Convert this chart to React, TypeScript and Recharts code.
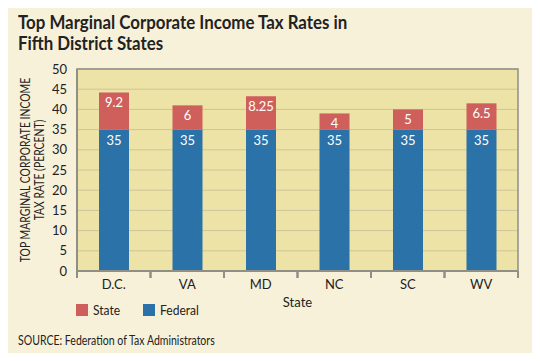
import React from 'react';
import {
  BarChart, Bar, XAxis, YAxis, CartesianGrid, LabelList, Legend, ReferenceArea
} from 'recharts';

const STATES = ['D.C.', 'VA', 'MD', 'NC', 'SC', 'WV'];
const FEDERAL_RATE = [35, 35, 35, 35, 35, 35];
const STATE_RATE = [9.2, 6, 8.25, 4, 5, 6.5];
const Y_TICKS = [0, 5, 10, 15, 20, 25, 30, 35, 40, 45, 50];

const SERIES = [
  { key: 'state', name: 'State', color: '#cf5f5b' },
  { key: 'federal', name: 'Federal', color: '#2b72a8' },
];

const data = STATES.map((s, i) => ({ name: s, federal: FEDERAL_RATE[i], state: STATE_RATE[i] }));

const FONT = 'Lato, "Open Sans", sans-serif';
const AXIS_GRAY = '#8f8f86';

const XTick = (props: any) => {
  const { x, y, payload } = props;
  const half = payload && payload.offset ? payload.offset : 36.75;
  return (
    <g>
      <line x1={x - half} y1={y - 8} x2={x - half} y2={y - 1} stroke={AXIS_GRAY} strokeWidth={2} />
      <line x1={x + half} y1={y - 8} x2={x + half} y2={y - 1} stroke={AXIS_GRAY} strokeWidth={2} />
      <text x={x} y={y + 10} textAnchor="middle" fontSize={13} fill="#222" fontFamily={FONT}>
        {payload.value}
      </text>
    </g>
  );
};

const YLabel = (props: any) => {
  const vb = props.viewBox || {};
  const cy = vb.y + vb.height / 2;
  return (
    <text transform={`translate(30, ${cy}) rotate(-90) scale(0.8, 1)`} textAnchor="middle" fontSize={13} fill="#222" fontFamily={FONT}>
      <tspan x={0} dy={0}>TOP MARGINAL CORPORATE INCOME</tspan>
      <tspan x={0} dy={14}>TAX RATE (PERCENT)</tspan>
    </text>
  );
};

const LegendContent = () => (
  <div style={{ display: 'flex', fontFamily: FONT, fontSize: 14, color: '#222' }}>
    {SERIES.map((s) => (
      <div key={s.key} style={{ display: 'flex', alignItems: 'center', marginRight: 18 }}>
        <span style={{ width: 12, height: 12, background: s.color, display: 'inline-block', marginRight: 5 }} />
        <span style={{ display: 'inline-block', transform: 'scaleX(0.86)', transformOrigin: 'left' }}>{s.name}</span>
      </div>
    ))}
  </div>
);

export default function App() {
  return (
    <div style={{ position: 'relative', width: 540, height: 361, margin: -8, background: '#f7f1da', border: '1px solid #333', boxSizing: 'border-box', overflow: 'hidden' }}>
      <div style={{ position: 'absolute', left: 17, top: 11, fontFamily: FONT, fontWeight: 700, fontSize: 18.5, lineHeight: '21px', color: '#222', transform: 'scaleX(0.91)', transformOrigin: 'left top', whiteSpace: 'nowrap' }}>
        Top Marginal Corporate Income Tax Rates in<br />Fifth District States
      </div>
      <div style={{ position: 'absolute', left: 17, top: 331, fontFamily: FONT, fontSize: 13, color: '#222', transform: 'scaleX(0.81)', transformOrigin: 'left top', whiteSpace: 'nowrap' }}>
        SOURCE: Federation of Tax Administrators
      </div>
      <div style={{ position: 'absolute', left: -1, top: -1 }}>
        <BarChart width={540} height={361} data={data} margin={{ top: 69, right: 22, bottom: 60, left: 0 }}>
          <CartesianGrid vertical={false} stroke="#cdc59c" fill="#ede3a6" fillOpacity={1} />
          <ReferenceArea y1={0} y2={50} fill="none" stroke={AXIS_GRAY} strokeWidth={1.5} />
          <XAxis
            dataKey="name"
            tick={<XTick />}
            tickLine={false}
            axisLine={{ stroke: AXIS_GRAY, strokeWidth: 2 }}
            height={30}
            interval={0}
            label={{ value: 'State', position: 'insideBottom', offset: -6, fontSize: 13, fill: '#222', fontFamily: FONT }}
          />
          <YAxis
            domain={[0, 50]}
            ticks={Y_TICKS}
            interval={0}
            width={77}
            tickLine={false}
            axisLine={{ stroke: AXIS_GRAY, strokeWidth: 2 }}
            tick={{ fontSize: 13, fill: '#222', fontFamily: FONT }}
            tickMargin={4}
            label={<YLabel />}
          />
          <Legend
            layout="horizontal"
            verticalAlign="middle"
            align="center"
            content={<LegendContent />}
            wrapperStyle={{ top: 301, left: 76, width: 200 }}
          />
          <Bar dataKey="federal" name="Federal" stackId="a" fill={SERIES[1].color} barSize={30} isAnimationActive={false}>
            <LabelList dataKey="federal" position="insideTop" offset={6} fill="#fff" fontSize={13} fontFamily={FONT} />
          </Bar>
          <Bar dataKey="state" name="State" stackId="a" fill={SERIES[0].color} barSize={30} isAnimationActive={false}>
            <LabelList dataKey="state" position="insideTop" offset={5} fill="#fff" fontSize={13} fontFamily={FONT} />
          </Bar>
        </BarChart>
      </div>
    </div>
  );
}
